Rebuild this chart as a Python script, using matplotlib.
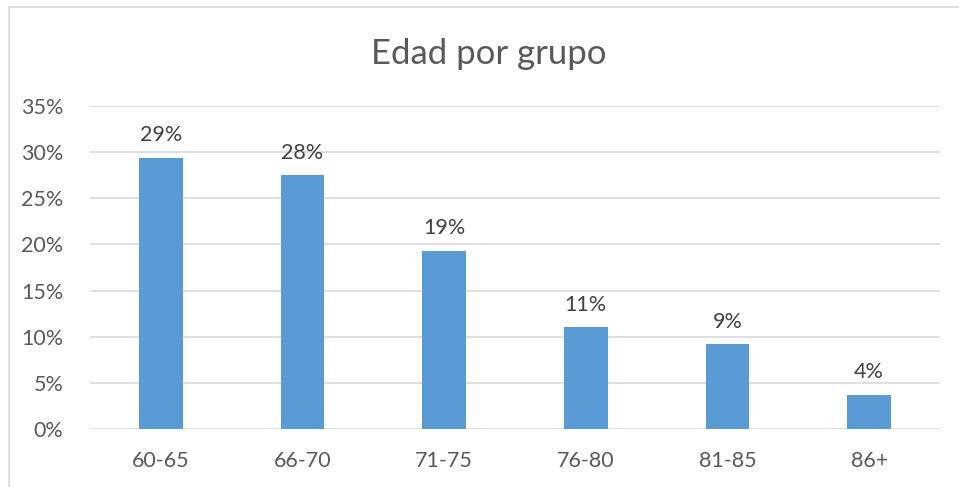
import matplotlib.pyplot as plt
from matplotlib.patches import Rectangle
from matplotlib.ticker import FuncFormatter

categories = ["60-65", "66-70", "71-75", "76-80", "81-85", "86+"]
values = [0.294, 0.275, 0.193, 0.110, 0.092, 0.037]
labels = ["29%", "28%", "19%", "11%", "9%", "4%"]
yticks = [0, 0.05, 0.10, 0.15, 0.20, 0.25, 0.30, 0.35]

plt.rcParams["font.family"] = ["Lato", "DejaVu Sans"]

fig = plt.figure(figsize=(9.59, 4.87), dpi=100)
fig.patches.append(Rectangle((9 / 959, -0.1), 1.2, 1 - 7 / 487 + 0.1, transform=fig.transFigure,
                             fill=False, edgecolor="#D9D9D9", linewidth=1.2))
ax = fig.add_axes([90 / 959, 1 - 429 / 487, 850 / 959, 323 / 487])

x = range(len(categories))
bars = ax.bar(x, values, width=0.31, color="#5B9BD5", zorder=3)
for b, lab in zip(bars, labels):
    ax.annotate(lab, (b.get_x() + b.get_width() / 2, b.get_height()), xytext=(0, 9),
                textcoords="offset points", ha="center", va="bottom", fontsize=15.5, color="#404040")

ax.set_xlim(-0.5, len(categories) - 0.5)
ax.set_ylim(0, 0.35)
ax.set_yticks(yticks)
ax.yaxis.set_major_formatter(FuncFormatter(lambda v, p: f"{v * 100:.0f}%"))
ax.set_xticks(list(x))
ax.set_xticklabels(categories)
ax.grid(axis="y", color="#D9D9D9", linewidth=1.2, zorder=0)
for s in ax.spines.values():
    s.set_visible(False)
ax.tick_params(length=0, labelsize=15.5, labelcolor="#595959")
ax.tick_params(axis="x", pad=16)
ax.tick_params(axis="y", pad=19)

fig.text(489 / 959, 1 - 54 / 487, "Edad por grupo", ha="center", va="center", fontsize=25, color="#595959")

fig.savefig("out.png", dpi=100)
